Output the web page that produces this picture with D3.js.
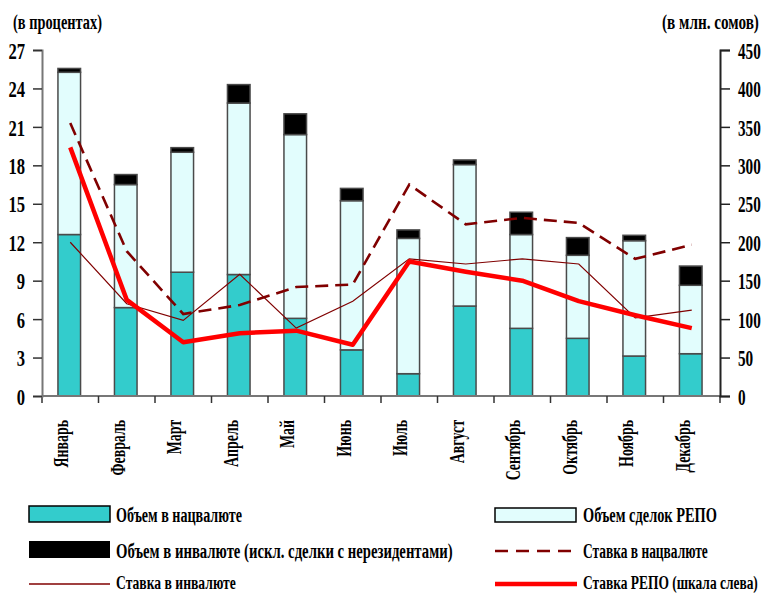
<!DOCTYPE html>
<html><head><meta charset="utf-8">
<script src="https://cdn.jsdelivr.net/npm/d3@7"></script>
<style>
html,body{margin:0;padding:0;background:#fff;}
text{font-family:"Liberation Serif","Times New Roman",serif;font-weight:bold;fill:#000;}
</style></head>
<body><svg id="c" width="762" height="593"></svg>
<script>
const months = ["Январь","Февраль","Март","Апрель","Май","Июнь","Июль","Август","Сентябрь","Октябрь","Ноябрь","Декабрь"];
// volumes, mln soms (right axis)
const volNat  = [210,115,161,158,101,60,29,117,88,75,52,55];
const volRepo = [211,160,156,223,239,194,176,184,122,108,150,89];
const volFx   = [5,13,6,24,27,16,11,6,29,23,7,25];
// rates, percent (left axis)
const rateNat  = [21.3,11.3,6.4,7.1,8.5,8.7,16.5,13.4,13.9,13.5,10.7,11.8];
const rateFx   = [12.0,7.2,5.9,9.5,5.3,7.4,10.7,10.3,10.7,10.3,6.1,6.7];
const rateRepo = [19.4,7.5,4.2,4.9,5.1,4.0,10.5,9.7,9.0,7.4,6.3,5.3];
const leftTicks  = [0,3,6,9,12,15,18,21,24,27];
const rightTicks = [0,50,100,150,200,250,300,350,400,450];
const labels = {
  left:"(в процентах)", right:"(в млн. сомов)",
  nat:"Объем в нацвалюте", repo:"Объем сделок РЕПО",
  fx:"Объем в инвалюте (искл. сделки с нерезидентами)",
  rNat:"Ставка в нацвалюте", rFx:"Ставка в инвалюте", rRepo:"Ставка РЕПО (шкала слева)"
};

const svg = d3.select("#c");
const L = 42, R = 720, T = 50, B = 396;
const x = d3.scaleBand().domain(months).range([L, R]).padding(0);
const yL = d3.scaleLinear().domain([0, 27]).range([B, T]);
const yR = d3.scaleLinear().domain([0, 450]).range([B, T]);
// horizontal squeeze of text to a target width (condensed font look)
function squeeze(node, target){
  const s = d3.select(node);
  const w = node.getComputedTextLength();
  const sx = target / w;
  const x0 = +s.attr("x") || 0, y0 = +s.attr("y") || 0;
  const pre = s.attr("transform") || "";
  s.attr("x", 0).attr("y", 0).attr("transform", `${pre} translate(${x0},${y0}) scale(${sx},1)`);
}
function squeezeF(sel, f){ sel.each(function(){ squeeze(this, this.getComputedTextLength()*f); }); }

// stacked bars
const stackData = months.map((m,i)=>({m, nat:volNat[i], repo:volRepo[i], fx:volFx[i]}));
const series = d3.stack().keys(["nat","repo","fx"])(stackData);
const fills = {nat:"#33cccc", repo:"#e2fdfd", fx:"#000000"};
const bw = x.bandwidth()*0.4;
series.forEach(s=>{
  svg.append("g").selectAll("rect").data(s).join("rect")
    .attr("x", d=>x(d.data.m)+x.bandwidth()/2 - bw/2 - 1)
    .attr("width", bw)
    .attr("y", d=>yR(d[1]))
    .attr("height", d=>yR(d[0])-yR(d[1]))
    .attr("fill", fills[s.key])
    .attr("stroke", "#4a4a4a")
    .attr("stroke-width", 1.5);
});

// axes
const gx = svg.append("g").attr("transform",`translate(0,${B})`);
gx.append("line").attr("x1",L).attr("x2",R).attr("stroke","#777").attr("stroke-width",2);
gx.selectAll("line.t").data(d3.range(months.length+1)).join("line").attr("class","t")
  .attr("x1",i=>L+i*x.step()).attr("x2",i=>L+i*x.step()).attr("y1",0).attr("y2",7)
  .attr("stroke","#333").attr("stroke-width",1.5);

const gl = svg.append("g").attr("transform",`translate(${L},0)`)
  .call(d3.axisLeft(yL).tickValues(leftTicks).tickSize(9).tickPadding(8));
gl.select(".domain").attr("stroke","#777").attr("stroke-width",2);
gl.selectAll(".tick line").attr("stroke","#333").attr("stroke-width",1.5);
gl.selectAll(".tick text").attr("font-size",24).attr("font-family",null).attr("dy","0.34em")
  .each(function(d){ squeeze(this, String(d).length*8.3); });

const gr = svg.append("g").attr("transform",`translate(${R},0)`)
  .call(d3.axisRight(yR).tickValues(rightTicks).tickSize(10).tickPadding(8));
gr.select(".domain").attr("stroke","#222").attr("stroke-width",2);
gr.selectAll(".tick line").attr("stroke","#222").attr("stroke-width",1.5);
gr.selectAll(".tick text").attr("font-size",24).attr("font-family",null).attr("dy","0.34em")
  .each(function(d){ squeeze(this, String(d).length*7.6); });

// month labels
const ml = svg.append("g").selectAll("text").data(months).join("text")
  .attr("transform", d=>`translate(${x(d)+x.bandwidth()/2},420) rotate(-90)`)
  .attr("text-anchor","end").attr("dy","-2").attr("font-size",21).text(d=>d);
squeezeF(ml, 0.66);

// lines
const cx = (d,i)=>x(months[i])+x.bandwidth()/2;
const lineL = d3.line().x(cx).y(d=>yL(d));
svg.append("path").datum(rateFx).attr("d",lineL).attr("fill","none")
  .attr("stroke","#800000").attr("stroke-width",1.2);
svg.append("path").datum(rateNat).attr("d",lineL).attr("fill","none")
  .attr("stroke","#800000").attr("stroke-width",2.6).attr("stroke-dasharray","13,7");
svg.append("path").datum(rateRepo).attr("d",lineL).attr("fill","none")
  .attr("stroke","#ff0000").attr("stroke-width",4.5).attr("stroke-linejoin","round");

// axis titles
squeeze(svg.append("text").attr("x",13).attr("y",29).attr("font-size",20).text(labels.left).node(), 89);
squeeze(svg.append("text").attr("x",662).attr("y",29).attr("font-size",20).text(labels.right).node(), 97);

// legend
const lg = svg.append("g");
function legText(xp, yp, s, w, fs){ squeeze(lg.append("text").attr("x",xp).attr("y",yp).attr("font-size",fs||20).text(s).node(), w); }
lg.append("rect").attr("x",29).attr("y",506).attr("width",81).attr("height",16).attr("fill",fills.nat).attr("stroke","#000").attr("stroke-width",1.5);
legText(116,521.5,labels.nat,126);
lg.append("rect").attr("x",29).attr("y",541).attr("width",81).attr("height",17).attr("fill",fills.fx);
legText(116,558,labels.fx,337);
lg.append("line").attr("x1",29).attr("x2",110).attr("y1",584).attr("y2",584).attr("stroke","#800000").attr("stroke-width",1.5);
legText(116,588.5,labels.rFx,120,19);
lg.append("rect").attr("x",495).attr("y",508).attr("width",81).attr("height",14).attr("fill",fills.repo).attr("stroke","#000").attr("stroke-width",1.5);
legText(583,521.5,labels.repo,134);
lg.append("line").attr("x1",495).attr("x2",577).attr("y1",551).attr("y2",551).attr("stroke","#800000").attr("stroke-width",2.6).attr("stroke-dasharray","13,8");
legText(583,558,labels.rNat,125);
lg.append("line").attr("x1",495).attr("x2",577).attr("y1",584).attr("y2",584).attr("stroke","#ff0000").attr("stroke-width",4.5);
legText(583,588.5,labels.rRepo,175,19);
</script></body></html>
